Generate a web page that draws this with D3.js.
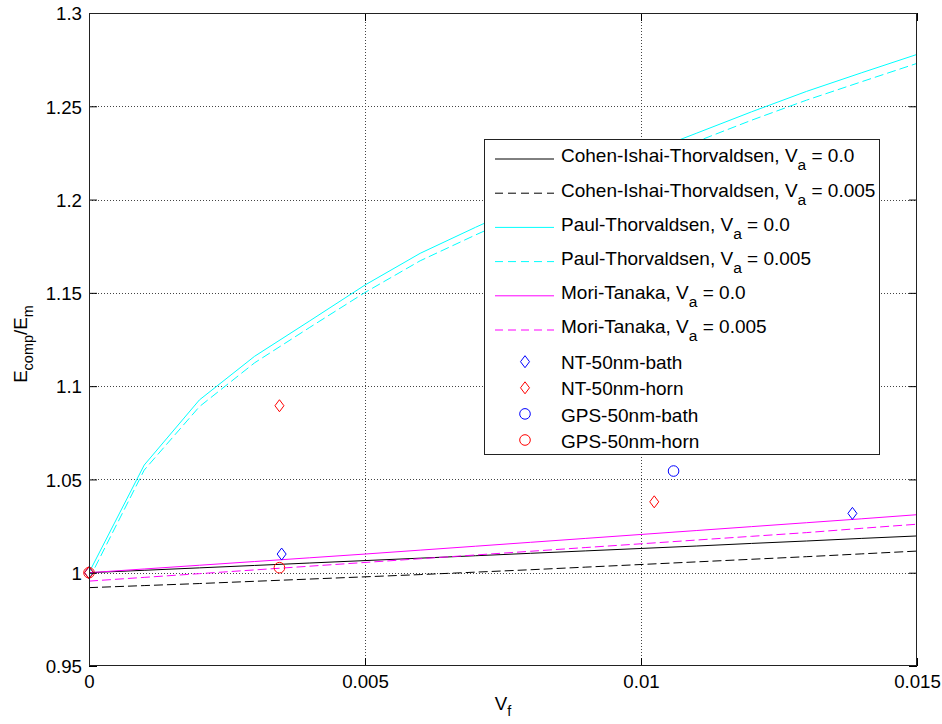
<!DOCTYPE html>
<html>
<head>
<meta charset="utf-8">
<script src="https://cdn.jsdelivr.net/npm/d3@7"></script>
<style>
  html, body { margin: 0; padding: 0; background: #fff; }
  svg { display: block; font-family: "Liberation Sans", Arial, sans-serif; }
</style>
</head>
<body>
<svg id="chart" width="942" height="724"></svg>
<script>
// Volume fraction of fibres
const vf = [0, 0.001, 0.002, 0.003, 0.004, 0.005, 0.006, 0.007, 0.008, 0.009, 0.010, 0.011, 0.012, 0.013, 0.014, 0.015];

// Model predictions of E_comp/E_m
const cohen0   = [1.0000, 1.0013, 1.0026, 1.0039, 1.0052, 1.0065, 1.0078, 1.0091, 1.0104, 1.0117, 1.0130, 1.0143, 1.0157, 1.0170, 1.0184, 1.0197];
const cohen005 = [0.9920, 0.9931, 0.9942, 0.9954, 0.9966, 0.9978, 0.9990, 1.0003, 1.0016, 1.0030, 1.0044, 1.0058, 1.0072, 1.0086, 1.0101, 1.0116];
const paul0    = [1.0000, 1.0577, 1.0926, 1.1160, 1.1350, 1.1542, 1.1712, 1.1851, 1.1985, 1.2115, 1.2240, 1.2355, 1.2470, 1.2580, 1.2680, 1.2778];
const paul005  = [0.9965, 1.0550, 1.0890, 1.1125, 1.1315, 1.1502, 1.1672, 1.1810, 1.1943, 1.2072, 1.2195, 1.2310, 1.2425, 1.2533, 1.2632, 1.2730];
const mori0    = [1.0000, 1.0020, 1.0040, 1.0060, 1.0080, 1.0100, 1.0121, 1.0142, 1.0163, 1.0184, 1.0205, 1.0226, 1.0247, 1.0268, 1.0289, 1.0311];
const mori005  = [0.9955, 0.9975, 0.9995, 1.0015, 1.0035, 1.0055, 1.0075, 1.0095, 1.0115, 1.0135, 1.0155, 1.0175, 1.0195, 1.0215, 1.0238, 1.0260];

// Measurements
const ntBathX  = [0, 0.00349, 0.01383];
const ntBathY  = [1.0000, 1.0100, 1.0318];
const ntHornX  = [0, 0.00345, 0.01024];
const ntHornY  = [1.0000, 1.0895, 1.0380];
const gpsBathX = [0.01059];
const gpsBathY = [1.0545];
const gpsHornX = [0, 0.00345];
const gpsHornY = [1.0000, 1.0027];

// Axis ticks
const xTicks = [0, 0.005, 0.01, 0.015];
const xTickLabels = ["0", "0.005", "0.01", "0.015"];
const yTicks = [0.95, 1.0, 1.05, 1.1, 1.15, 1.2, 1.25, 1.3];
const yTickLabels = ["0.95", "1", "1.05", "1.1", "1.15", "1.2", "1.25", "1.3"];

// Legend entries
const lineNames = ["Cohen-Ishai-Thorvaldsen, V", "Cohen-Ishai-Thorvaldsen, V", "Paul-Thorvaldsen, V", "Paul-Thorvaldsen, V", "Mori-Tanaka, V", "Mori-Tanaka, V"];
const lineSuffix = [" = 0.0", " = 0.005", " = 0.0", " = 0.005", " = 0.0", " = 0.005"];
const markerNames = ["NT-50nm-bath", "NT-50nm-horn", "GPS-50nm-bath", "GPS-50nm-horn"];

const svg = d3.select("#chart");
const X0 = 89, X1 = 917, Y0 = 13, Y1 = 666;
const x = d3.scaleLinear().domain([0, 0.015]).range([X0, X1]);
const y = d3.scaleLinear().domain([0.95, 1.3]).range([Y1, Y0]);

svg.append("rect").attr("width", 942).attr("height", 724).attr("fill", "#fff");

// grid
const grid = svg.append("g").attr("stroke", "#444").attr("stroke-width", 1).attr("stroke-dasharray", "1,2");
grid.selectAll(".gx").data(xTicks.slice(1, -1)).enter().append("line")
  .attr("x1", d => Math.round(x(d)) + 0.5).attr("x2", d => Math.round(x(d)) + 0.5)
  .attr("y1", Y0).attr("y2", Y1);
grid.selectAll(".gy").data(yTicks.slice(1, -1)).enter().append("line")
  .attr("y1", d => Math.round(y(d)) + 0.5).attr("y2", d => Math.round(y(d)) + 0.5)
  .attr("x1", X0).attr("x2", X1);

// clipped data layer
svg.append("clipPath").attr("id", "plotclip").append("rect")
  .attr("x", X0).attr("y", Y0).attr("width", X1 - X0).attr("height", Y1 - Y0);
const plot = svg.append("g").attr("clip-path", "url(#plotclip)");

const series = [
  { v: cohen0,   color: "#000000", dash: null },
  { v: cohen005, color: "#000000", dash: "9,4" },
  { v: paul0,    color: "#00ffff", dash: null },
  { v: paul005,  color: "#00ffff", dash: "9,4" },
  { v: mori0,    color: "#ff00ff", dash: null },
  { v: mori005,  color: "#ff00ff", dash: "9,4" }
];
const line = d3.line().x((d, i) => x(vf[i])).y(d => y(d));
series.forEach(s => {
  plot.append("path").datum(s.v)
    .attr("d", line)
    .attr("fill", "none")
    .attr("stroke", s.color)
    .attr("stroke-width", 1)
    .attr("stroke-dasharray", s.dash);
});

function diamondPath(cx, cy) {
  return `M${cx},${cy - 6}L${cx + 4.5},${cy}L${cx},${cy + 6}L${cx - 4.5},${cy}Z`;
}
function drawDiamonds(g, xs, ys, color) {
  xs.forEach((xv, i) => {
    g.append("path").attr("d", diamondPath(x(xv), y(ys[i])))
      .attr("fill", "none").attr("stroke", color).attr("stroke-width", 1);
  });
}
function drawCircles(g, xs, ys, color) {
  xs.forEach((xv, i) => {
    g.append("circle").attr("cx", x(xv)).attr("cy", y(ys[i])).attr("r", 5.3)
      .attr("fill", "none").attr("stroke", color).attr("stroke-width", 1);
  });
}
drawDiamonds(svg, ntBathX, ntBathY, "#0000ff");
drawDiamonds(svg, ntHornX, ntHornY, "#ff0000");
drawCircles(svg, gpsBathX, gpsBathY, "#0000ff");
drawCircles(svg, gpsHornX, gpsHornY, "#ff0000");

// axes (ticks pointing inward, box on all sides)
const fmtX = d => xTickLabels[xTicks.indexOf(d)];
const fmtY = d => yTickLabels[yTicks.indexOf(d)];
const axL = svg.append("g").attr("transform", `translate(${X0},0)`)
  .call(d3.axisLeft(y).tickValues(yTicks).tickFormat(fmtY).tickSize(-8).tickPadding(7));
const axR = svg.append("g").attr("transform", `translate(${X1},0)`)
  .call(d3.axisRight(y).tickValues(yTicks).tickFormat("").tickSize(-8));
const axB = svg.append("g").attr("transform", `translate(0,${Y1})`)
  .call(d3.axisBottom(x).tickValues(xTicks).tickFormat(fmtX).tickSize(-8).tickPadding(9));
const axT = svg.append("g").attr("transform", `translate(0,${Y0})`)
  .call(d3.axisTop(x).tickValues(xTicks).tickFormat("").tickSize(-8));
[axL, axR, axB, axT].forEach(a => {
  a.select(".domain").remove();
  a.selectAll("line").attr("stroke", "#000");
  a.selectAll("text").attr("font-size", 18.7).attr("fill", "#000")
    .attr("font-family", "'Liberation Sans', Arial, sans-serif");
});
axL.selectAll("text").attr("dy", "0.36em");
axB.selectAll("text").attr("dy", "0.72em");

// box
svg.append("rect").attr("x", X0 + 0.5).attr("y", Y0 + 0.5)
  .attr("width", X1 - X0 - 1).attr("height", Y1 - Y0 - 1)
  .attr("fill", "none").attr("stroke", "#222").attr("stroke-width", 1);

// axis labels
const yl = svg.append("text").attr("transform", "translate(27,344) rotate(-90)")
  .attr("text-anchor", "middle").attr("font-size", 18.7).attr("fill", "#000");
yl.append("tspan").text("E");
yl.append("tspan").attr("font-size", 14.5).attr("dy", 6).text("comp");
yl.append("tspan").attr("dy", -6).text("/E");
yl.append("tspan").attr("font-size", 14.5).attr("dy", 6).text("m");

const xl = svg.append("text").attr("x", 503).attr("y", 710)
  .attr("text-anchor", "middle").attr("font-size", 18.7).attr("fill", "#000");
xl.append("tspan").text("V");
xl.append("tspan").attr("font-size", 14.5).attr("dy", 6).text("f");

// legend
const lg = svg.append("g");
lg.append("rect").attr("x", 484.5).attr("y", 139.5).attr("width", 395).attr("height", 315)
  .attr("fill", "#fff").attr("stroke", "#222").attr("stroke-width", 1);
const rowY0 = 159, rowStep = 34.2;
series.forEach((s, i) => {
  const ry = rowY0 + i * rowStep;
  lg.append("line").attr("x1", 495).attr("x2", 554).attr("y1", ry).attr("y2", ry)
    .attr("stroke", s.color).attr("stroke-width", 1).attr("stroke-dasharray", s.dash ? "8,5" : null);
  const t = lg.append("text").attr("x", 561).attr("y", ry + 3.3)
    .attr("font-size", 19).attr("fill", "#000");
  t.append("tspan").text(lineNames[i]);
  t.append("tspan").attr("font-size", 15.5).attr("dy", 8).text("a");
  t.append("tspan").attr("dy", -8).text(lineSuffix[i]);
});
const mRowY0 = 361.7, mRowStep = 26.1;
const markerColors = ["#0000ff", "#ff0000", "#0000ff", "#ff0000"];
markerNames.forEach((name, i) => {
  const ry = mRowY0 + i * mRowStep;
  if (i < 2) {
    lg.append("path").attr("d", diamondPath(525, ry)).attr("fill", "none")
      .attr("stroke", markerColors[i]).attr("stroke-width", 1);
  } else {
    lg.append("circle").attr("cx", 525).attr("cy", ry).attr("r", 5.3).attr("fill", "none")
      .attr("stroke", markerColors[i]).attr("stroke-width", 1);
  }
  lg.append("text").attr("x", 561).attr("y", ry + 7.6)
    .attr("font-size", 19).attr("fill", "#000").text(name);
});
</script>
</body>
</html>
